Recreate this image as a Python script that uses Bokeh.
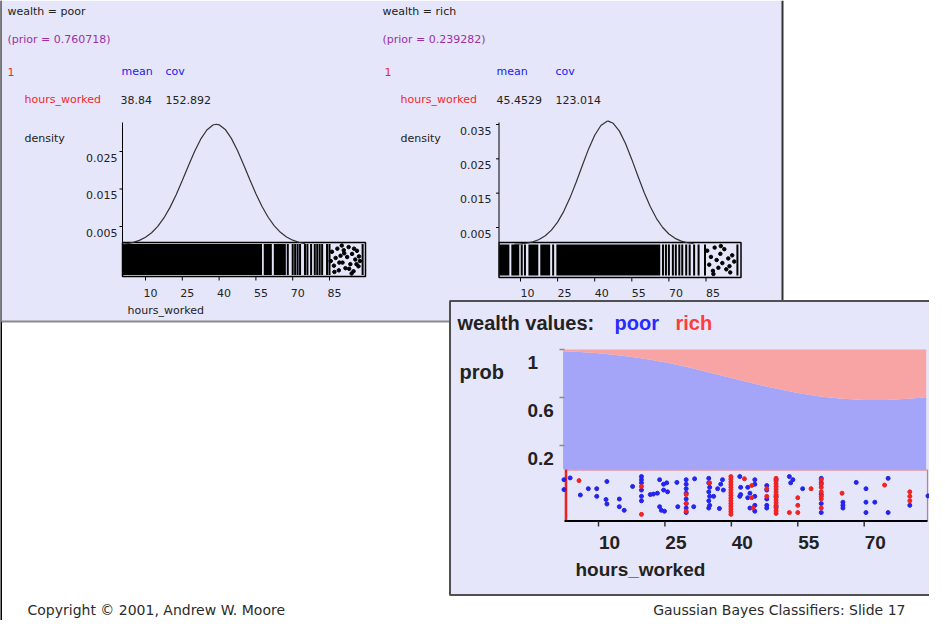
from bokeh.plotting import figure
from bokeh.models import Range1d
from bokeh.core.properties import value
from bokeh.embed import file_html
from bokeh.resources import INLINE

# ------------------------------------------------------------------ data
poor_prior = "0.760718"
rich_prior = "0.239282"
poor_mean = "38.84"
poor_cov = "152.892"
rich_mean = "45.4529"
rich_cov = "123.014"

poor_hours = [1, 2.5, 5, 7.5, 10, 12.5, 15, 17.5, 20, 22.5, 25, 27.5, 30, 32.5, 35, 37.5,
              38.84, 40, 42.5, 45, 47.5, 50, 52.5, 55, 57.5, 60, 62.5, 65, 67.5, 70, 72.5, 75]
poor_density = [0.0003, 0.00043, 0.00076, 0.0013, 0.00213, 0.00334, 0.00503, 0.00728, 0.0101,
                0.01347, 0.01725, 0.02119, 0.02499, 0.02829, 0.03074, 0.03207, 0.03226, 0.03212,
                0.03088, 0.0285, 0.02524, 0.02147, 0.01752, 0.01373, 0.01033, 0.00746, 0.00517,
                0.00344, 0.0022, 0.00135, 0.00079, 0.00045]

rich_hours = [7.5, 10, 12.5, 15, 17.5, 20, 22.5, 25, 27.5, 30, 32.5, 35, 37.5, 40, 42.5, 45,
              45.45, 47.5, 50, 52.5, 55, 57.5, 60, 62.5, 65, 67.5, 70, 72.5, 75, 77.5, 80]
rich_density = [0.0001, 0.00022, 0.00044, 0.00083, 0.0015, 0.00258, 0.00423, 0.00656, 0.0097,
                0.01363, 0.01819, 0.02307, 0.02782, 0.03188, 0.03472, 0.03594, 0.03597, 0.03536,
                0.03307, 0.0294, 0.02483, 0.01994, 0.01522, 0.01104, 0.00761, 0.00499, 0.00311,
                0.00184, 0.00103, 0.00055, 0.00028]

poor_density_ticks = [0.005, 0.015, 0.025]
rich_density_ticks = [0.005, 0.015, 0.025, 0.035]
top_hour_ticks = [10, 25, 40, 55, 70, 85]

# rug of the poor records (dense spans, full columns, scattered points)
poor_dense_lo = [0.6, 58.2, 62.3]
poor_dense_hi = [57.5, 61.5, 67.2]
poor_col_hours = [68, 70, 71, 72, 73, 75, 76, 77.5, 79, 80, 81, 82, 84, 85, 98.5]
poor_dot_hours = [86.0, 86.8, 87.5, 88.2, 88.8, 89.5, 90.3, 90.8, 91.5, 92.2, 92.8, 93.5, 94.2,
                  94.8, 95.5, 96.2, 96.8, 97.4, 87.0, 89.0, 91.0, 93.0, 95.0, 97.0, 85.5, 90.0,
                  94.0, 96.0]
poor_dot_jitter = [0.75, 0.30, 0.55, 0.85, 0.15, 0.62, 0.40, 0.80, 0.22, 0.58, 0.90, 0.35, 0.68,
                   0.12, 0.50, 0.78, 0.28, 0.45, 0.10, 0.40, 0.70, 0.20, 0.85, 0.60, 0.45, 0.95,
                   0.05, 0.35]

# rug of the rich records
rich_dense_lo = [1.4, 6.3, 13.2, 18.0, 24.5]
rich_dense_hi = [5.5, 9.5, 17.2, 22.0, 66.5]
rich_col_hours = [10.5, 11.8, 23.2, 67.6, 68.8, 70.0, 71.6, 72.8, 74.2, 75.4, 77.0, 78.4, 80.2,
                  82.0, 84.6, 97.7]
rich_dot_hours = [85.5, 86.3, 87.0, 87.8, 88.5, 89.3, 90.0, 90.8, 91.6, 92.4, 93.2, 94.0, 94.8,
                  95.6, 96.4, 88.0, 91.0, 94.5]
rich_dot_jitter = [0.8, 0.35, 0.6, 0.15, 0.9, 0.5, 0.25, 0.7, 0.4, 0.85, 0.2, 0.55, 0.1, 0.65,
                   0.45, 0.05, 0.95, 0.3]

# posterior P(wealth = poor | hours_worked)
post_hours = [2, 5, 10, 15, 20, 25, 30, 35, 40, 45, 50, 55, 60, 65, 70, 75, 80, 84]
post_poor = [0.986, 0.981, 0.969, 0.951, 0.926, 0.893, 0.854, 0.809, 0.762, 0.716, 0.674,
             0.637, 0.609, 0.590, 0.580, 0.579, 0.589, 0.603]
prob_ticks = [1.0, 0.6, 0.2]
prob_tick_labels = ["1", "0.6", "0.2"]
bottom_hour_ticks = [10, 25, 40, 55, 70]

# jittered records in the bottom rug
blue_hours = [2.2, 3.6, 2.2, 5.9, 7.7, 9.6, 9.6, 11.9, 11.7, 11.9, 14.7, 14.7, 15.8, 17.7,
              19.7, 19.7, 19.7, 19.7, 19.7, 19.7,
              21.7, 22.4, 23.3, 23.8, 24.7, 25.4, 25.6, 24.7, 23.8, 24.2, 24.9, 27.7,
              29.8, 29.8, 29.8, 29.8, 29.8, 29.8, 29.8, 29.8,
              27.9, 31.7, 31.5,
              34.9, 34.9, 35.1, 34.9, 35.1, 34.9, 35.1, 34.9,
              36.0, 36.9, 37.6, 38.0, 38.2, 37.3,
              41.9, 42.1, 42.1, 41.9,
              43.7, 44.2, 43.7, 44.2, 45.3, 45.3, 45.3, 45.3, 45.3,
              48.0, 48.0, 48.0, 48.0, 48.0,
              50.1, 50.1, 50.1,
              53.1, 53.9, 53.4, 56.1,
              60.3, 60.3, 60.3, 60.3, 60.3,
              65.2, 65.2, 65.2, 68.2, 70.4, 70.4, 72.4, 70.4,
              75.4, 75.4, 80.3, 84.4]
blue_jitter = [0.84, 0.88, 0.62, 0.50, 0.64, 0.64, 0.47, 0.80, 0.40, 0.30, 0.41, 0.24, 0.16, 0.69,
               0.91, 0.84, 0.77, 0.61, 0.47, 0.37,
               0.51, 0.52, 0.54, 0.84, 0.74, 0.77, 0.57, 0.61, 0.24, 0.16, 0.14, 0.78,
               0.84, 0.74, 0.64, 0.54, 0.41, 0.31, 0.21, 0.11,
               0.24, 0.86, 0.24,
               0.87, 0.77, 0.67, 0.57, 0.47, 0.37, 0.27, 0.21,
               0.47, 0.64, 0.74, 0.84, 0.61, 0.20,
               0.91, 0.67, 0.51, 0.47,
               0.67, 0.54, 0.44, 0.21, 0.84, 0.74, 0.47, 0.27, 0.14,
               0.71, 0.61, 0.41, 0.27, 0.21,
               0.84, 0.47, 0.24,
               0.91, 0.84, 0.77, 0.64,
               0.87, 0.77, 0.51, 0.31, 0.11,
               0.34, 0.27, 0.21, 0.78, 0.64, 0.34, 0.34, 0.11,
               0.87, 0.11, 0.27, 0.48]
red_hours = [5.6, 19.7, 19.7, 29.8, 29.8, 29.8, 35.1,
             39.9, 39.9, 39.9, 39.9, 39.9, 39.9, 39.9, 39.9, 39.9, 39.9, 39.9, 39.9, 39.9, 39.9, 39.9,
             42.96, 44.6, 44.6, 44.9, 48.0, 48.0,
             50.1, 50.1, 50.1, 50.1, 50.1, 50.1, 50.1, 50.1, 50.1, 50.1, 50.1, 50.1, 50.1, 50.1,
             53.1, 55.0, 55.0, 55.0, 58.0,
             60.3, 60.3, 60.3, 60.3, 60.3, 60.3, 60.3,
             65.0, 74.6, 80.3, 80.3, 80.3]
red_jitter = [0.82, 0.69, 0.07, 0.51, 0.31, 0.14, 0.77,
              0.91, 0.85, 0.79, 0.73, 0.67, 0.61, 0.55, 0.49, 0.43, 0.37, 0.31, 0.25, 0.19, 0.13, 0.07,
              0.86, 0.71, 0.44, 0.21, 0.64, 0.47,
              0.87, 0.81, 0.75, 0.69, 0.63, 0.57, 0.51, 0.45, 0.39, 0.33, 0.27, 0.21, 0.15, 0.09,
              0.11, 0.44, 0.27, 0.11, 0.64,
              0.84, 0.74, 0.67, 0.57, 0.47, 0.41, 0.21,
              0.54, 0.72, 0.57, 0.47, 0.37]

# ------------------------------------------------------------------ styles
LAV = "#e6e6fa"
INK = "#222222"
PURPLE = "#9b30a8"
RED = "#f02828"
BLUE = "#2020f0"
POOR_FILL = "#a4a4f8"
RICH_FILL = "#f8a4a4"
SMALL = "DejaVu Sans"
BIG = "Liberation Sans"

# page coordinates: the frame covers page pixels 8..937 x 8..628
PX0, PX1, PY0, PY1 = 8, 937, 8, 628


def lin_range(v0, p0, v1, p1, pa, pb):
    k = (v1 - v0) / (p1 - p0)
    return Range1d(start=v0 + (pa - p0) * k, end=v0 + (pb - p0) * k)


def xr(v0, p0, v1, p1):
    return lin_range(v0, p0, v1, p1, PX0, PX1)


def yr(v0, p0, v1, p1):
    return lin_range(v0, p0, v1, p1, PY1, PY0)


p = figure(width=PX1 - PX0, height=PY1 - PY0, x_range=Range1d(PX0, PX1),
           y_range=Range1d(PY1, PY0), output_backend="svg", toolbar_location=None,
           min_border=0, x_axis_type=None, y_axis_type=None)
p.outline_line_color = None
p.background_fill_color = "white"
p.border_fill_color = "white"
p.xgrid.visible = False
p.ygrid.visible = False

p.extra_x_ranges = {
    "xl": xr(10, 153, 85, 337),
    "xr": xr(10, 528, 85, 713.5),
    "xb": xr(10, 606, 70, 871.7),
}
p.extra_y_ranges = {
    "dl": yr(0.005, 234, 0.025, 159),
    "dr": yr(0.005, 235, 0.035, 132),
    "jl": yr(0, 282.5, 1, 251.5),
    "jr": yr(0, 283, 1, 252),
    "pb": yr(0, 477, 1, 357),
    "jb": yr(0, 525, 1, 480),
}


def label(x, y, s, color=INK, size="11px", font=SMALL, align="left", style="normal",
          xname="default", yname="default"):
    p.text(x=[x], y=[y], text=[s], text_color=color, text_font=value(font),
           text_font_size=size, text_align=align, text_baseline="middle",
           text_font_style=style, x_range_name=xname, y_range_name=yname)


# left black slide edge
p.segment(x0=[8.5], y0=[PY0], x1=[8.5], y1=[PY1], line_color="black", line_width=2)

# ------------------------------------------------------------------ top panel
p.quad(left=[9], right=[790], top=[PY0], bottom=[329], fill_color=LAV, line_color=None)
p.segment(x0=[9], y0=[329], x1=[790], y1=[329], line_color="#8a8a8a", line_width=2)
p.segment(x0=[790], y0=[PY0], x1=[790], y1=[330], line_color="#333333", line_width=2)

label(15, 19, "wealth = poor")
label(15, 47, f"(prior = {poor_prior})", color=PURPLE)
label(15, 79, "1", color=RED)
label(129, 79, "mean", color=BLUE)
label(173, 79, "cov", color=BLUE)
label(32, 107, "hours_worked", color=RED)
label(128, 107, poor_mean)
label(173, 107, poor_cov)
label(32, 146, "density")
label(135, 318, "hours_worked")

label(390, 19, "wealth = rich")
label(390, 47, f"(prior = {rich_prior})", color=PURPLE)
label(392, 79, "1", color=RED)
label(504, 79, "mean", color=BLUE)
label(563, 79, "cov", color=BLUE)
label(408, 107, "hours_worked", color=RED)
label(504, 107, rich_mean)
label(563, 107, rich_cov)
label(408, 146, "density")


def density_chart(xname, dname, jname, hours, dens, dticks, ax, box, lab_x, xoff,
                  dense_lo, dense_hi, cols, dot_h, dot_j):
    bl, br, bt, bb = box
    # rug
    p.quad(left=dense_lo, right=dense_hi, top=[1] * len(dense_lo), bottom=[0] * len(dense_lo),
           fill_color="black", line_color=None, x_range_name=xname, y_range_name=jname)
    p.segment(x0=cols, y0=[0] * len(cols), x1=cols, y1=[1] * len(cols), line_color="black",
              line_width=2, x_range_name=xname, y_range_name=jname)
    p.scatter(x=dot_h, y=dot_j, size=3.5, color="black", x_range_name=xname, y_range_name=jname)
    p.quad(left=[bl], right=[br], top=[bt], bottom=[bb], fill_color=None, line_color="black",
           line_width=1.5)
    # density curve
    p.line(x=hours, y=dens, line_color="#333333", line_width=1.2, x_range_name=xname,
           y_range_name=dname)
    # y axis
    p.segment(x0=[ax], y0=[130], x1=[ax], y1=[bt], line_color="black", line_width=1)
    p.segment(x0=[ax - 3] * len(dticks), y0=dticks, x1=[ax] * len(dticks), y1=dticks,
              line_color="black", line_width=1, y_range_name=dname)
    p.text(x=[lab_x] * len(dticks), y=dticks, text=[f"{t:.3f}" for t in dticks],
           text_color=INK, text_font=value(SMALL), text_font_size="11px", text_align="right",
           text_baseline="middle", y_offset=6, y_range_name=dname)
    # x axis
    p.segment(x0=top_hour_ticks, y0=[bb] * len(top_hour_ticks), x1=top_hour_ticks,
              y1=[bb + 4] * len(top_hour_ticks), line_color="black", line_width=1,
              x_range_name=xname)
    p.text(x=top_hour_ticks, y=[300] * len(top_hour_ticks), text=[str(t) for t in top_hour_ticks],
           text_color=INK, text_font=value(SMALL), text_font_size="11px", text_align="center",
           text_baseline="middle", x_offset=xoff, x_range_name=xname)


density_chart("xl", "dl", "jl", poor_hours, poor_density, poor_density_ticks, 130,
              (130, 373, 250, 284), 125, 5, poor_dense_lo, poor_dense_hi, poor_col_hours,
              poor_dot_hours, poor_dot_jitter)
density_chart("xr", "dr", "jr", rich_hours, rich_density, rich_density_ticks, 506.5,
              (506.5, 748.5, 250, 285), 499, 7, rich_dense_lo, rich_dense_hi, rich_col_hours,
              rich_dot_hours, rich_dot_jitter)

# ------------------------------------------------------------------ bottom panel
p.quad(left=[457.5], right=[950], top=[308.5], bottom=[602.5], fill_color=LAV,
       line_color="#505050", line_width=2)

label(465, 330, "wealth values:", size="20px", font=BIG, style="bold")
label(622, 330, "poor", color="#2a2aff", size="20px", font=BIG, style="bold")
label(683, 330, "rich", color="#ff3c3c", size="20px", font=BIG, style="bold")
label(467, 379, "prob", size="20px", font=BIG, style="bold")

p.varea(x=post_hours, y1=[0] * len(post_hours), y2=post_poor, fill_color=POOR_FILL,
        x_range_name="xb", y_range_name="pb")
p.varea(x=post_hours, y1=post_poor, y2=[1] * len(post_hours), fill_color=RICH_FILL,
        x_range_name="xb", y_range_name="pb")

p.segment(x0=[567] * len(prob_ticks), y0=prob_ticks, x1=[572] * len(prob_ticks), y1=prob_ticks,
          line_color="#8c8c8c", line_width=1.5, y_range_name="pb")
p.text(x=[535] * len(prob_ticks), y=prob_ticks, text=prob_tick_labels, text_color=INK,
       text_font=value(BIG), text_font_size="19px", text_font_style="bold", text_align="left",
       text_baseline="middle", y_offset=13, y_range_name="pb")

# rug box
p.quad(left=[573], right=[935], top=[477.5], bottom=[528], fill_color=LAV,
       line_color="#e07080", line_width=1.2)
p.segment(x0=[573.5], y0=[477], x1=[573.5], y1=[528], line_color="#f02020", line_width=2.5)
p.scatter(x=blue_hours, y=blue_jitter, size=4, color="#2424ee", x_range_name="xb",
          y_range_name="jb")
p.scatter(x=red_hours, y=red_jitter, size=4, color="#f02222", x_range_name="xb",
          y_range_name="jb")

# x axis
p.segment(x0=[572], y0=[528.5], x1=[935], y1=[528.5], line_color="black", line_width=2)
p.segment(x0=bottom_hour_ticks, y0=[529] * len(bottom_hour_ticks), x1=bottom_hour_ticks,
          y1=[534] * len(bottom_hour_ticks), line_color="#333333", line_width=1.5,
          x_range_name="xb")
p.text(x=bottom_hour_ticks, y=[550] * len(bottom_hour_ticks),
       text=[str(t) for t in bottom_hour_ticks], text_color=INK, text_font=value(BIG),
       text_font_size="19px", text_font_style="bold", text_align="center",
       text_baseline="middle", x_offset=11, x_range_name="xb")
label(583, 577, "hours_worked", size="19px", font=BIG, style="bold")

# ------------------------------------------------------------------ footer
label(35, 617, "Copyright \u00a9 2001, Andrew W. Moore", color="#2b2b2b", size="14px")
label(913, 617, "Gaussian Bayes Classifiers: Slide 17", color="#2b2b2b", size="14px",
      align="right")

open("out.html", "w").write(file_html(p, INLINE))
